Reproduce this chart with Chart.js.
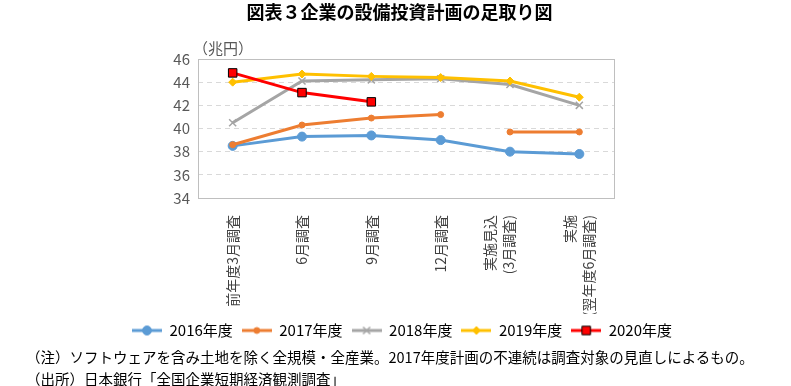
<!DOCTYPE html>
<html>
<head>
<meta charset="utf-8">
<script src="https://cdn.jsdelivr.net/npm/chart.js@4"></script>
<style>
  body { margin: 0; background: #fff; font-family: "Noto Sans CJK JP", sans-serif; }
  #wrap { position: relative; width: 791px; height: 386px; overflow: hidden; }
  #title { position: absolute; left: 4px; top: -2px; width: 791px; text-align: center; font-size: 18px; font-weight: bold; color: #000; }
  #unit { position: absolute; left: 193px; top: 37px; font-size: 15px; color: #595959; }
  #box { position: absolute; left: 0; top: 0; width: 791px; height: 348px; }
  .note { position: absolute; left: 26px; font-size: 14.5px; color: #000; white-space: nowrap; }
</style>
</head>
<body>
<div id="wrap">
  <div id="box"><canvas id="chart"></canvas></div>
  <div id="title">図表３企業の設備投資計画の足取り図</div>
  <div id="unit">（兆円）</div>
  <div class="note" style="top:345.5px">（注）ソフトウェアを含み土地を除く全規模・全産業。2017年度計画の不連続は調査対象の見直しによるもの。</div>
  <div class="note" style="top:367.5px">（出所）日本銀行「全国企業短期経済観測調査」</div>
</div>
<script>
var labels = [
  '前年度3月調査',
  '6月調査',
  '9月調査',
  '12月調査',
  ['実施見込', '(3月調査)'],
  ['実施', '(翌年度6月調査)']
];
var yMin = 34;
var yMax = 46;
var yStep = 2;

var fy2016 = [38.5, 39.3, 39.4, 39.0, 38.0, 37.8];
var fy2017 = [38.6, 40.3, 40.9, 41.2, 39.7, 39.7];
var fy2018 = [40.5, 44.1, 44.2, 44.3, 43.8, 42.0];
var fy2019 = [44.0, 44.7, 44.5, 44.4, 44.1, 42.7];
var fy2020 = [44.8, 43.1, 42.3];

var FONT = '"Noto Sans CJK JP", sans-serif';

// small canvas used as legend symbol: line with the marker in the middle
var legendIcon = function (color, style, radius, border) {
  let c = document.createElement('canvas');
  c.width = 30;
  c.height = 14;
  let ctx = c.getContext('2d');
  ctx.strokeStyle = color;
  ctx.lineWidth = 3;
  ctx.beginPath();
  ctx.moveTo(0, 7);
  ctx.lineTo(30, 7);
  ctx.stroke();
  ctx.fillStyle = color;
  ctx.strokeStyle = border || color;
  ctx.lineWidth = style === 'crossRot' ? 1.5 : 1;
  Chart.helpers.drawPoint(ctx, { pointStyle: style, radius: radius, borderWidth: ctx.lineWidth }, 15, 7);
  return c;
};

var series = [
  { label: '2016年度', data: fy2016, color: '#5B9BD5', style: 'circle', r: 4.5 },
  { label: '2017年度', data: fy2017, color: '#ED7D31', style: 'circle', r: 3 },
  { label: '2018年度', data: fy2018, color: '#A5A5A5', style: 'crossRot', r: 5 },
  { label: '2019年度', data: fy2019, color: '#FFC000', style: 'rectRot', r: 4 },
  { label: '2020年度', data: fy2020, color: '#FF0000', style: 'rect', r: 6, border: '#000' }
];

var datasets = series.map(function (s, i) {
  let ds = {
    label: s.label,
    data: s.data,
    borderColor: s.color,
    backgroundColor: s.color,
    borderWidth: 3,
    pointStyle: s.style,
    pointRadius: s.r,
    pointHoverRadius: s.r,
    pointBackgroundColor: s.color,
    pointBorderColor: s.border || s.color,
    pointBorderWidth: s.style === 'crossRot' ? 1.5 : 1,
    tension: 0,
    order: series.length - i,
    icon: legendIcon(s.color, s.style, s.r, s.border)
  };
  if (s.label === '2017年度') {
    // break in the 2017 series between 12月調査 and 実施見込
    ds.segment = {
      borderColor: function (ctx) { return ctx.p0DataIndex === 3 ? 'rgba(0,0,0,0)' : undefined; }
    };
  }
  return ds;
});

var plotBox = {
  id: 'plotBox',
  beforeDraw: function (chart) {
    // two-line category labels sit left of the tick, as in the original
    let items = chart.scales.x.getLabelItems();
    items.forEach(function (it, i) {
      if (Array.isArray(it.label)) {
        it.options.translation[0] -= (i === 4 ? 20 : 10);
      }
    });
  },
  beforeDatasetsDraw: function (chart) {
    let a = chart.chartArea;
    let ctx = chart.ctx;
    ctx.save();
    ctx.strokeStyle = '#BFBFBF';
    ctx.lineWidth = 1;
    ctx.strokeRect(Math.round(a.left) + 0.5, Math.round(a.top) + 0.5, Math.round(a.right - a.left), Math.round(a.bottom - a.top));
    ctx.restore();
  }
};

var config = {
  type: 'line',
  data: { labels: labels, datasets: datasets },
  options: {
    responsive: true,
    maintainAspectRatio: false,
    animation: false,
    layout: { padding: { left: 13, right: 0, top: 59, bottom: 0 } },
    plugins: {
      tooltip: { enabled: false },
      legend: {
        position: 'bottom',
        labels: {
          usePointStyle: true,
          pointStyleWidth: 30,
          boxHeight: 14,
          padding: 9,
          color: '#000',
          font: { family: FONT, size: 15 },
          generateLabels: function (chart) {
            return chart.data.datasets.map(function (ds, i) {
              return {
                text: ds.label,
                pointStyle: ds.icon,
                fillStyle: ds.borderColor,
                strokeStyle: ds.borderColor,
                lineWidth: 0,
                datasetIndex: i,
                fontColor: '#000'
              };
            });
          }
        }
      }
    },
    scales: {
      x: {
        offset: true,
        grid: { display: false, offset: true },
        border: { display: false },
        afterFit: function (axis) { axis.height = 116; },
        ticks: {
          minRotation: 90,
          maxRotation: 90,
          autoSkip: false,
          padding: 9,
          color: '#404040',
          font: { family: FONT, size: 14, lineHeight: 1.35 }
        }
      },
      y: {
        min: yMin,
        max: yMax,
        afterFit: function (axis) { axis.width = 185; },
        grid: {
          color: function (ctx) {
            return (ctx.tick.value === yMin || ctx.tick.value === yMax) ? 'rgba(0,0,0,0)' : '#D9D9D9';
          },
          drawTicks: false
        },
        border: { display: false, dash: [5, 4] },
        ticks: {
          stepSize: yStep,
          autoSkip: false,
          padding: 8,
          color: '#595959',
          font: { family: FONT, size: 15 }
        }
      },
      yRight: {
        position: 'right',
        afterFit: function (axis) { axis.width = 177; },
        grid: { display: false },
        border: { display: false },
        ticks: { display: false }
      }
    }
  },
  plugins: [plotBox]
};

var chart = new Chart(document.getElementById('chart').getContext('2d'), config);
</script>
</body>
</html>
